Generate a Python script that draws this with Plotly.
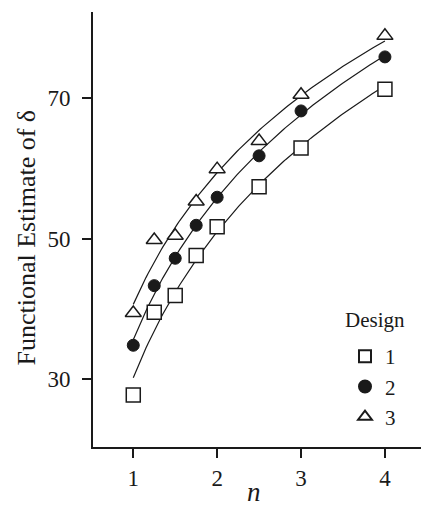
import numpy as np
import plotly.graph_objects as go

# ---- data ----
n_values = [1, 1.25, 1.5, 1.75, 2, 2.5, 3, 4]
design1 = [27.7, 39.5, 41.9, 47.6, 51.7, 57.4, 62.9, 71.3]
design2 = [34.8, 43.3, 47.2, 51.9, 55.9, 61.8, 68.2, 75.9]
design3 = [39.4, 49.8, 50.4, 55.3, 59.9, 63.9, 70.5, 78.9]
design_names = ["1", "2", "3"]
x_ticks = [1, 2, 3, 4]
y_ticks = [30, 50, 70]
x_title = "<i>n</i>"
y_title = "Functional Estimate of δ"
legend_title = "Design"

FONT = "Liberation Serif, Times New Roman, serif"
INK = "#1a1a1a"

series = [design1, design2, design3]
styles = [
    dict(symbol="square", size=14, color="white", line=dict(color=INK, width=1.5)),
    dict(symbol="circle", size=12, color=INK, line=dict(color=INK, width=1)),
    dict(symbol="triangle-up", size=14, color="white", line=dict(color=INK, width=1.5)),
]

fig = go.Figure()

# fitted logarithmic curves (least squares on ln n)
n_arr = np.array(n_values, dtype=float)
grid = np.linspace(min(n_values), max(n_values), 120)
for ys in series:
    b, a = np.polyfit(np.log(n_arr), np.array(ys, dtype=float), 1)
    fig.add_trace(go.Scatter(x=grid, y=a + b * np.log(grid), mode="lines",
                             line=dict(color=INK, width=1.2), showlegend=False,
                             hoverinfo="skip"))

for name, ys, st in zip(design_names, series, styles):
    fig.add_trace(go.Scatter(x=n_values, y=ys, mode="markers", name=name,
                             marker=st, hoverinfo="skip"))

W, H = 421, 510
ML, MR, MT, MB = 93, 0, 12, 63
PW, PH = W - ML - MR, H - MT - MB


def px_x(x):
    return (x - ML) / PW


def px_y(y):
    return (MT + PH - y) / PH


fig.update_layout(
    width=W, height=H,
    margin=dict(l=ML, r=MR, t=MT, b=MB),
    paper_bgcolor="white", plot_bgcolor="white",
    font=dict(family=FONT, color=INK, size=23),
    showlegend=True,
    hovermode=False,
    legend=dict(
        font=dict(size=21, family=FONT),
        x=px_x(345), y=px_y(336), xanchor="left", yanchor="top",
        bgcolor="rgba(0,0,0,0)", itemsizing="constant",
        tracegroupgap=0,
    ),
    annotations=[
        dict(text=legend_title, xref="paper", yref="paper",
             x=px_x(375), y=px_y(320), xanchor="center", yanchor="middle",
             showarrow=False, font=dict(size=21, family=FONT, color=INK)),
        dict(text=y_title, textangle=-90, xref="paper", yref="paper",
             x=px_x(26), y=px_y(237.5),
             xanchor="center", yanchor="middle", showarrow=False,
             font=dict(size=26, family=FONT, color=INK)),
        dict(text=x_title, xref="paper", yref="paper",
             x=px_x(254), y=px_y(492),
             xanchor="center", yanchor="middle", showarrow=False,
             font=dict(size=27, family=FONT, color=INK)),
    ],
)

fig.update_xaxes(
    range=[0.52, 4.43], tickvals=x_ticks, ticktext=[str(t) for t in x_ticks],
    showgrid=False, zeroline=False, showline=True, linecolor=INK, linewidth=2,
    ticks="outside", ticklen=9, tickwidth=2, tickcolor=INK,
    tickfont=dict(size=23, family=FONT),
    automargin=False,
)
fig.update_yaxes(
    range=[20.3, 82.3], tickvals=y_ticks, ticktext=[str(t) for t in y_ticks],
    showgrid=False, zeroline=False, showline=True, linecolor=INK, linewidth=2,
    ticks="outside", ticklen=9, tickwidth=2, tickcolor=INK,
    tickfont=dict(size=23, family=FONT), ticklabelstandoff=7,
    automargin=False,
)

fig.write_html(
    "out.html",
    config={"displayModeBar": False, "staticPlot": True},
    post_script="document.body.style.margin='0';document.body.style.overflow='hidden';",
)
